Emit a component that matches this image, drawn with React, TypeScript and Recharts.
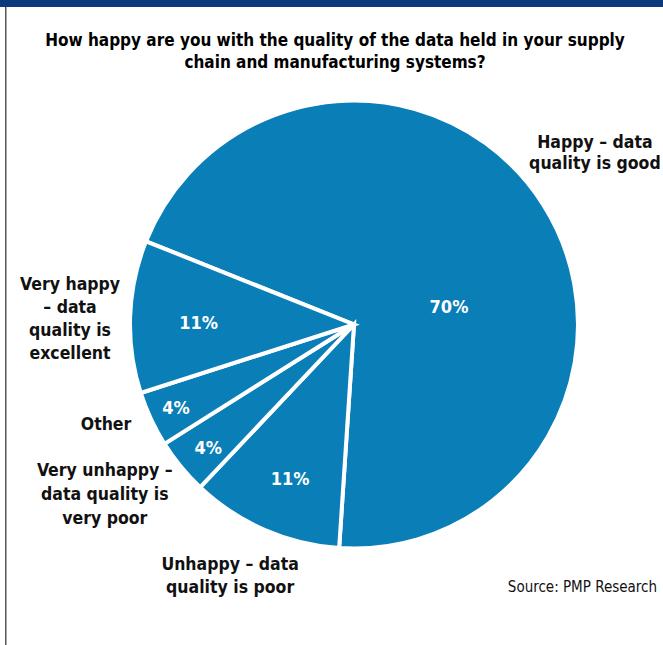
import React from 'react';
import { PieChart, Pie, Cell } from 'recharts';

const categories = [
  'Happy – data quality is good',
  'Unhappy – data quality is poor',
  'Very unhappy – data quality is very poor',
  'Other',
  'Very happy – data quality is excellent',
];
const shares = [70, 11, 4, 4, 11];
const labelLines = [
  ['Happy – data', 'quality is good'],
  ['Unhappy – data', 'quality is poor'],
  ['Very unhappy –', 'data quality is', 'very poor'],
  ['Other'],
  ['Very happy', '– data', 'quality is', 'excellent'],
];
const titleLines = [
  'How happy are you with the quality of the data held in your supply',
  'chain and manufacturing systems?',
];
const sourceText = 'Source: PMP Research';

// label placement (relative to the slice geometry)
const pctAngleShift = [-21.2, 1, 0.8, 0, 1.1];
const pctRadius = [0.432, 0.743, 0.852, 0.877, 0.694];
const outAngleShift = [3.3, -2.7, -5.2, -3.1, 0.7];
const outRadius = [1.321, 1.248, 1.345, 1.193, 1.268];
const outLineHeight = [21, 23, 24, 22, 23];

const data = categories.map((c, i) => ({ name: c, value: shares[i] }));

const FONT = '"DejaVu Sans Condensed", "DejaVu Sans", sans-serif';
const TXT: React.CSSProperties = { fontStretch: 'condensed' };
const RAD = Math.PI / 180;

const renderLabel = (p: any) => {
  const { cx, cy, midAngle, outerRadius, index, value } = p;
  const a1 = (midAngle + pctAngleShift[index]) * RAD;
  const r1 = outerRadius * pctRadius[index];
  const px = cx + r1 * Math.cos(a1);
  const py = cy - r1 * Math.sin(a1);
  const a2 = (midAngle + outAngleShift[index]) * RAD;
  const r2 = outerRadius * outRadius[index];
  const ox = cx + r2 * Math.cos(a2);
  const oy = cy - r2 * Math.sin(a2);
  const lines = labelLines[index];
  const lh = outLineHeight[index];
  return (
    <g key={'lbl' + index}>
      <text x={px} y={py} fill="#ffffff" fontFamily={FONT} style={TXT} fontWeight="bold" fontSize={18}
        textAnchor="middle" dominantBaseline="central">{value}%</text>
      {lines.map((t, i) => (
        <text key={i} x={ox} y={oy + (i - (lines.length - 1) / 2) * lh} fill="#111111"
          fontFamily={FONT} style={TXT} fontWeight="bold" fontSize={17.5} textAnchor="middle" dominantBaseline="central">{t}</text>
      ))}
    </g>
  );
};

export default function App() {
  return (
    <div style={{ position: 'absolute', left: 0, top: 0, width: 663, height: 645, background: '#fff' }}>
      <svg width={663} height={645} style={{ position: 'absolute', left: 0, top: 0 }}>
        <rect x={0} y={0} width={663} height={7} fill="#0c3a7d" />
        <rect x={5} y={7} width={1.5} height={638} fill="#555" />
        {titleLines.map((t, i) => (
          <text key={i} x={335} y={40 + i * 22} fill="#000" fontFamily={FONT} style={TXT} fontWeight="bold" fontSize={17}
            textAnchor="middle" dominantBaseline="central">{t}</text>
        ))}
        <text x={657} y={587} fill="#111" fontFamily={FONT} style={TXT} fontSize={15} textAnchor="end"
          dominantBaseline="central">{sourceText}</text>
      </svg>
      <div style={{ position: 'absolute', left: 0, top: 0 }}>
        <PieChart width={663} height={645} margin={{ top: 0, right: 0, bottom: 0, left: 0 }}>
          <Pie data={data} dataKey="value" nameKey="name" cx={354} cy={324.5} outerRadius={224}
            startAngle={158.2} endAngle={-201.8} stroke="#ffffff" strokeWidth={4}
            label={renderLabel} labelLine={false} isAnimationActive={false}>
            {data.map((d, i) => <Cell key={i} fill="#0a7eb7" />)}
          </Pie>
        </PieChart>
      </div>
    </div>
  );
}
